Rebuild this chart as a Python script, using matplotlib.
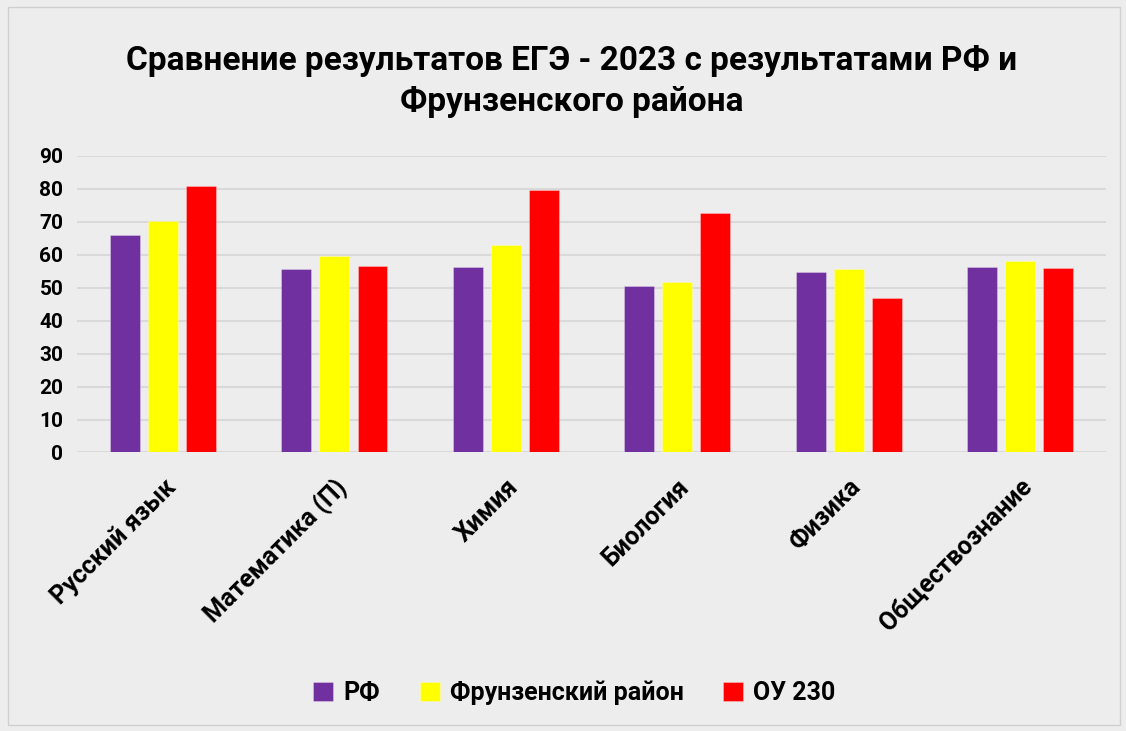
import numpy as np
import matplotlib
matplotlib.use("Agg")
from matplotlib import pyplot as plt
from matplotlib.patches import Rectangle

plt.rcParams['font.family'] = ['Roboto', 'Noto Sans', 'DejaVu Sans']

subjects = ["Русский язык", "Математика (П)", "Химия", "Биология", "Физика", "Обществознание"]
rf = [66.1, 55.5, 56.1, 50.6, 54.8, 56.2]
frunz = [70.1, 59.6, 62.8, 51.6, 55.6, 58.0]
ou230 = [80.8, 56.7, 79.7, 72.7, 46.8, 55.8]
series_names = ["РФ", "Фрунзенский район", "ОУ 230"]
colors = ["#7030A0", "#FFFF00", "#FF0000"]
yticks = [0, 10, 20, 30, 40, 50, 60, 70, 80, 90]

bg = "#EDEDED"
fig = plt.figure(figsize=(11.26, 7.31), dpi=100, facecolor=bg)
fig.patches.append(Rectangle((0.007, 0.008), 0.988, 0.982, transform=fig.transFigure,
                             fill=False, edgecolor="#CFCFCF", linewidth=1))
ax = fig.add_axes([0.0687, 0.381, 0.9133, 0.406], facecolor=bg)

x = np.arange(len(subjects))
w = 0.175
step = 0.222
for i, (vals, name, c) in enumerate(zip([rf, frunz, ou230], series_names, colors)):
    ax.bar(x + (i - 1) * step, vals, width=w, color=c, label=name, zorder=3,
           edgecolor="#ffffff55", linewidth=0.6)

ax.set_xlim(-0.5, len(subjects) - 0.5)
ax.set_ylim(0, 90)
ax.set_yticks(yticks)
ax.set_yticklabels([str(t) for t in yticks], fontsize=15, fontweight="bold")
ax.yaxis.grid(True, color="#D9D9D9", linewidth=1.5, zorder=0)
ax.set_xticks(x)
ax.set_xticklabels(subjects, rotation=45, ha="right", rotation_mode="anchor",
                   fontsize=18, fontweight="bold")
ax.tick_params(axis="y", length=0, pad=10)
ax.tick_params(axis="x", length=0, pad=16)
for s in ax.spines.values():
    s.set_visible(False)

fig.text(0.508, 0.889, "Сравнение результатов ЕГЭ - 2023 с результатами РФ и\nФрунзенского района",
         ha="center", va="center", fontsize=24, fontweight="bold", linespacing=1.35)

fig.legend(loc="center", bbox_to_anchor=(0.51, 0.052), ncol=3, frameon=False,
           prop={"size": 18, "weight": "bold"}, handlelength=0.8, handleheight=0.8,
           columnspacing=1.6, handletextpad=0.4)

fig.savefig("out.png", dpi=100, facecolor=bg)
